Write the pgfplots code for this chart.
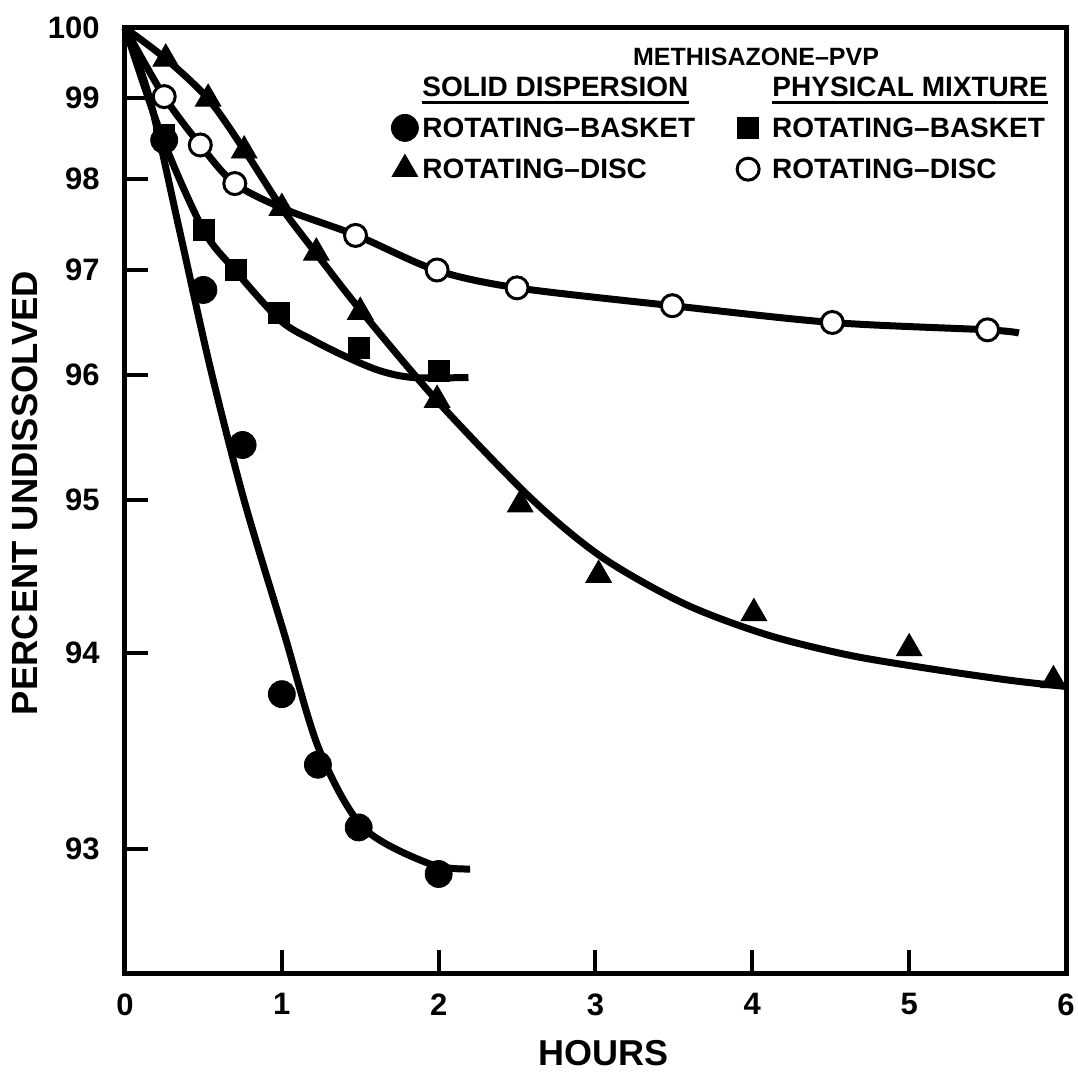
\documentclass[border=0pt]{standalone}
\usepackage{fontspec}
\setmainfont{Liberation Sans}
\usepackage{pgfplots}
\pgfplotsset{compat=1.18}

% Marker-only legend symbol, centred in a fixed-width slot
\pgfplotsset{
  lgimg/.style={legend image code/.code={%
      \draw[##1] plot coordinates {(6.5pt,0pt)};}},
}

\begin{document}
\begin{tikzpicture}
\begin{axis}[
  scale only axis,
  width=470.5pt, height=472.5pt,
  xmin=0, xmax=6,
  ymin=92.504, ymax=100,
  % the ordinate scale of the original graph paper is stretched towards
  % the bottom; it is reproduced piecewise between the labelled values
  y coord trafo/.code={\pgfmathparse{#1>=99 ? -(28+(100-#1)*70) :
    (#1>=98 ? -(98+(99-#1)*81) :
    (#1>=97 ? -(179+(98-#1)*91) :
    (#1>=96 ? -(270+(97-#1)*105) :
    (#1>=95 ? -(375+(96-#1)*125) :
    (#1>=94 ? -(500+(95-#1)*153) :
    (#1>=93 ? -(653+(94-#1)*196) : -(849+(93-#1)*250)))))))}},
  clip=false,
  axis line style={line width=2.5pt},
  tick align=inside,
  tick pos=left,
  major tick length=11.5pt,
  every tick/.style={line width=2pt, black},
  xtick={0,1,2,3,4,5,6},
  xticklabels={0,1,2,3,4,5,6},
  ytick={93,94,95,96,97,98,99,100},
  yticklabels={93,94,95,96,97,98,99,100},
  ticklabel style={font=\fontsize{15.5}{15.5}\selectfont\bfseries, inner sep=0pt},
  yticklabel style={xshift=-12.5pt},
  xticklabel style={yshift=-10pt},
  xlabel={HOURS},
  xlabel style={at={(rel axis cs:0.508,-0.0847)}, anchor=center,
    font=\fontsize{18}{18}\selectfont\bfseries},
  ylabel={PERCENT UNDISSOLVED},
  ylabel style={at={(rel axis cs:-0.1063,0.508)}, anchor=center,
    font=\fontsize{18.2}{18.2}\selectfont\bfseries},
  legend columns=2,
  legend cell align=left,
  legend style={draw=none, fill=none, inner sep=0pt,
    at={(0.2827,0.909)}, anchor=north west,
    font=\fontsize{14}{14}\selectfont\bfseries,
    nodes={inner sep=0pt, text depth=0pt},
    row sep=6.5pt,
    /tikz/column 1/.append style={column sep=2pt},
    /tikz/column 2/.append style={column sep=21pt},
    /tikz/column 3/.append style={column sep=6.5pt}},
]

% fitted curves
\addplot[smooth, line width=3.5pt, forget plot] coordinates {
  (0,100) (0.159,98.98) (0.351,97.41) (0.542,96.08) (0.759,95.0)
  (1.014,94.13) (1.237,93.51) (1.518,93.11) (1.945,92.94) (2.2,92.92)};
\addplot[smooth, line width=3.5pt, forget plot] coordinates {
  (0,100) (0.24,98.5) (0.5,97.44) (0.70,97.0) (0.99,96.52) (1.2,96.33)
  (1.415,96.17) (1.626,96.04) (1.836,95.98) (2.19,95.98)};
\addplot[smooth, line width=3.5pt, forget plot] coordinates {
  (0,100) (0.26,99.56) (0.53,98.99) (0.76,98.36) (1.0,97.68) (1.22,97.18)
  (1.5,96.62) (2.0,95.78) (2.6,95.0) (3.05,94.62)
  (3.57,94.32) (4.09,94.12) (4.61,93.99) (5.13,93.92) (5.65,93.86)
  (5.99,93.83)};
\addplot[smooth, line width=3.5pt, forget plot] coordinates {
  (0,100) (0.25,99.02) (0.48,98.42) (0.70,97.95) (1.03,97.66)
  (1.477,97.38) (1.98,97.0) (2.5,96.83) (3.49,96.66) (4.51,96.50)
  (5.5,96.43) (5.70,96.40)};

% solid dispersion, rotating basket
\addplot[only marks, mark=*, mark size=6.75pt, mark options={fill=black, line width=0.4pt}, lgimg]
  coordinates {(0.25,98.48) (0.5,96.81) (0.75,95.44) (1.0,93.79)
  (1.23,93.43) (1.49,93.11) (2.0,92.90)};
\addlegendentry{ROTATING–BASKET}
% physical mixture, rotating basket
\addplot[only marks, mark=square*, mark size=5.25pt, mark options={fill=black, line width=0.4pt}, lgimg]
  coordinates {(0.25,98.55) (0.5,97.44) (0.71,97.0) (0.98,96.59)
  (1.49,96.26) (2.0,96.04)};
\addlegendentry{ROTATING–BASKET}
% solid dispersion, rotating disc
\addplot[only marks, mark=triangle*, mark size=7.4pt, mark options={fill=black, line width=0.4pt}, lgimg]
  coordinates {(0.26,99.56) (0.53,98.99) (0.76,98.35) (1.0,97.68)
  (1.22,97.19) (1.5,96.6) (1.99,95.8) (2.52,94.97) (3.02,94.51)
  (4.01,94.26) (5.0,94.03) (5.92,93.86)};
\addlegendentry{ROTATING–DISC}
% physical mixture, rotating disc
\addplot[only marks, mark=*, mark size=5.5pt, mark options={fill=white, draw=black, line width=1.5pt}, lgimg]
  coordinates {(0.25,99.02) (0.48,98.42) (0.70,97.95) (1.47,97.38)
  (1.99,97.0) (2.5,96.83) (3.49,96.66) (4.51,96.50) (5.5,96.43)};
\addlegendentry{ROTATING–DISC}

% headings above the key
\node[font=\fontsize{12.5}{12.5}\selectfont\bfseries, anchor=base]
  at (rel axis cs:0.6706,0.9608) {METHISAZONE–PVP};
\node[font=\fontsize{14}{14}\selectfont\bfseries, anchor=base west, inner sep=0pt]
  (h1) at (rel axis cs:0.3156,0.927) {SOLID DISPERSION};
\node[font=\fontsize{14}{14}\selectfont\bfseries, anchor=base west, inner sep=0pt]
  (h2) at (rel axis cs:0.6876,0.927) {PHYSICAL MIXTURE};
\draw[line width=1.5pt] ([yshift=-3pt]h1.base west) -- ([yshift=-3pt]h1.base east);
\draw[line width=1.5pt] ([yshift=-3pt]h2.base west) -- ([yshift=-3pt]h2.base east);

\coordinate (sw) at (rel axis cs:0,0);
\end{axis}
\pgfresetboundingbox
\path[use as bounding box] ([shift={(-62.5pt,-52.5pt)}]sw) rectangle ++(539pt,539pt);
\end{tikzpicture}
\end{document}
